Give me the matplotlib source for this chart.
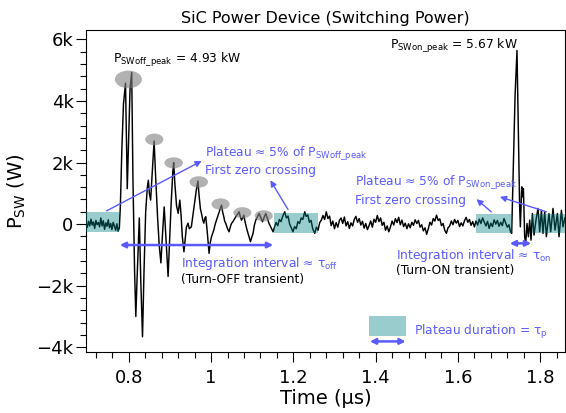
import matplotlib

matplotlib.use("Agg")
import matplotlib.pyplot as plt
from matplotlib.patches import Ellipse, Rectangle
from matplotlib.ticker import FuncFormatter, MultipleLocator


# switching power trace (time in us, power in W)
TIME = [
    0.696, 0.699, 0.702, 0.705, 0.708, 0.711, 0.714, 0.717, 0.720, 0.723,
    0.726, 0.729, 0.732, 0.735, 0.738, 0.741, 0.744, 0.747, 0.750, 0.753,
    0.756, 0.759, 0.762, 0.765, 0.768, 0.771, 0.774, 0.777,
    0.7795, 0.7830, 0.7870, 0.7920, 0.7945, 0.7962, 0.7990, 0.8030, 0.8070,
    0.8100, 0.8140, 0.8170, 0.8200, 0.8255, 0.8290, 0.8333, 0.8370, 0.8410,
    0.8450, 0.8475, 0.8500, 0.8530, 0.8570, 0.8615, 0.8650, 0.8700, 0.8740,
    0.8780, 0.8820, 0.8860, 0.8900, 0.8955, 0.8990, 0.9030, 0.9070, 0.9090,
    0.9120, 0.9160, 0.9200, 0.9240, 0.9270, 0.9300, 0.9340, 0.9370, 0.9400,
    0.9440, 0.9470, 0.9520, 0.9560, 0.9600, 0.9640, 0.9680, 0.9710, 0.9740,
    0.9767, 0.9800, 0.9823, 0.9850, 0.9871, 0.9910, 0.9951, 0.9980, 1.0010,
    1.0040, 1.0066, 1.0100, 1.0131, 1.0170, 1.0210, 1.0253, 1.0280, 1.0309,
    1.0330, 1.0357, 1.0400, 1.0437, 1.0470, 1.0496, 1.0540, 1.0576, 1.0620,
    1.0650, 1.0680, 1.0710, 1.0739, 1.0770, 1.0795, 1.0830, 1.0875, 1.0920,
    1.0957, 1.0990, 1.1021, 1.1050, 1.1086, 1.1130, 1.1167, 1.1210, 1.1249,
    1.1290, 1.1329, 1.1370, 1.1409, 1.1460, 1.1507,
    1.1540, 1.1580, 1.1620, 1.1660, 1.1700, 1.1740, 1.1790, 1.1830, 1.1870,
    1.1910, 1.1950, 1.1990, 1.2030, 1.2070, 1.2110, 1.2150, 1.2190, 1.2230,
    1.2277, 1.2310, 1.2350, 1.2390, 1.2430, 1.2470, 1.2520, 1.2560, 1.2600,
    1.2640, 1.2680, 1.2720, 1.2760, 1.2800, 1.2840, 1.2880, 1.2920, 1.2960,
    1.3000, 1.3040, 1.3080, 1.3120, 1.3160, 1.3200, 1.3240, 1.3280, 1.3320,
    1.3360, 1.3400, 1.3440, 1.3480, 1.3520, 1.3560, 1.3600, 1.3640, 1.3680,
    1.3720, 1.3760, 1.3800, 1.3840, 1.3880, 1.3920, 1.3960, 1.4000, 1.4040,
    1.4080, 1.4120, 1.4160, 1.4200, 1.4240, 1.4280, 1.4320, 1.4360, 1.4400,
    1.4440, 1.4480, 1.4520, 1.4560, 1.4600, 1.4640, 1.4680, 1.4720, 1.4760,
    1.4800, 1.4840, 1.4880, 1.4920, 1.4960, 1.5000, 1.5040, 1.5080, 1.5120,
    1.5160, 1.5200, 1.5240, 1.5280, 1.5320, 1.5360, 1.5400, 1.5440, 1.5480,
    1.5520, 1.5560, 1.5600, 1.5640, 1.5680, 1.5720, 1.5760, 1.5800, 1.5840,
    1.5880, 1.5920, 1.5960, 1.6000, 1.6040, 1.6080, 1.6120, 1.6160, 1.6200,
    1.6240, 1.6280, 1.6320, 1.6360, 1.6400, 1.6440, 1.6480, 1.6520, 1.6560,
    1.6600, 1.6640, 1.6680, 1.6720, 1.6760, 1.6800, 1.6840, 1.6880, 1.6920,
    1.6960, 1.7000, 1.7040, 1.7080, 1.7120, 1.7160, 1.7200, 1.7240, 1.7280,
    1.7307,
    1.7340, 1.7390, 1.7436, 1.7470, 1.7500, 1.7518, 1.7552, 1.7576, 1.7592,
    1.7623, 1.7648, 1.7680, 1.7713, 1.7745, 1.7777, 1.7810, 1.7850, 1.7900,
    1.7947, 1.7988, 1.8030, 1.8068, 1.8110, 1.8150, 1.8214, 1.8256, 1.8312,
    1.8361, 1.8418, 1.8458, 1.8516, 1.8555, 1.8600,
]
POWER = [
    30, -110, 90, -60, 160, -30, 70, -140, 120, -20,
    50, -90, 200, -60, 110, -170, 40, -70, 140, -120,
    20, -180, 60, -60, -200, 10, -230, -120,
    600, 2400, 3900, 4580, 2600, 1150, 2500, 4400, 4930,
    1500, -1500, -3000, -1800, 200, -1800, -3660, -1500, 400,
    1200, 1425, 1000, 780, 1700, 2700, 1600, 200, -700,
    -1260, -300, 560, -400, -1700, -600, 700, 1700, 2000,
    1300, 600, 350, 780, 300, -400, -900, -500, -100,
    30, -150, -90, 300, 700, 1100, 1400, 900, 500,
    345, 120, 30, 200, 240, -300, -950, -600, -410,
    -300, -195, 0, 130, 300, 450, 615, 400, 240,
    100, 20, -150, -250, -80, 20, 100, 185, 280,
    330, 400, 250, 130, 200, 290, 50, -195, -400,
    -570, -420, -300, -50, 130, 250, 345, 200, 75,
    220, 345, 180, 20, -120, -250,
    -100, 50, -50, 150, 80, 250, 400, 200, 260,
    0, -120, -250, -80, -150, 80, 20, 200, 150,
    400, 250, 300, 60, 120, -150, -300, -100, -200,
    50, 130, 280, 150, 400, 180, 260, -50, 100,
    -150, 50, -100, 120, 200, 20, 230, -60, 80,
    -140, 40, -60, 150, 250, 60, 180, -30, 90,
    -130, 20, -180, -50, 100, -100, 160, 60, 280,
    80, 200, -40, 60, -200, -60, -250, -90, 100,
    -30, 180, 50, 220, -20, 130, -80, 30, -150,
    10, -120, 60, -40, 140, 20, 120, -100, -20,
    -220, -120, -330, -150, 60, -30, 180, 100, 290,
    120, 170, -50, 20, -200, -300, -120, -60, 100,
    -20, 150, 30, 120, -80, 40, -60, 110, 220,
    60, 150, -40, 80, -90, 100, -30, 160, 20,
    200, 70, -60, 90, -140, 30, -80, 140, 0,
    120, -70, 60, -50, 180, 40, -100, -20, -250,
    -300,
    1500, 4200, 5640, 3000, 600, -90, 1210, 885, 1150,
    -410, -625, 20, -410, 130, -520, 345, -356, 150,
    510, -250, 450, -300, 400, -410, 345, -250, 510,
    -195, 345, -410, 450, -90, 200,
]

# plateau bands (teal)
PLATEAU_START = [0.696, 1.152, 1.643, 1.781]
PLATEAU_END = [0.775, 1.259, 1.731, 1.860]
PLATEAU_LOW = [-250, -280, -300, -300]
PLATEAU_HIGH = [380, 345, 320, 324]

# grey markers on the turn-off peaks
PEAK_T = [0.799, 0.862, 0.909, 0.970, 1.023, 1.076, 1.128]
PEAK_P = [4700, 2750, 1990, 1370, 650, 370, 270]
PEAK_W = [0.0656, 0.044, 0.045, 0.045, 0.044, 0.044, 0.044]
PEAK_H = [574, 380, 360, 370, 370, 360, 360]

BLUE = "#5a5aff"
TEAL = "#008080"
NOTE_SIZE = 8.8


def kilo(value, pos):
    if abs(value) < 1e-9:
        return "0"
    text = "{0:g}k".format(value / 1000.0)
    return text.replace("-", "\u2212")


def main():
    plt.rcParams["font.family"] = "DejaVu Sans"
    fig = plt.figure(figsize=(5.66, 4.13), dpi=100)
    ax = fig.add_axes([0.152, 0.148, 0.846, 0.779])

    ax.plot(TIME, POWER, color="black", linewidth=1.05, zorder=2)

    for t0, t1, lo, hi in zip(PLATEAU_START, PLATEAU_END, PLATEAU_LOW, PLATEAU_HIGH):
        ax.add_patch(Rectangle((t0, lo), t1 - t0, hi - lo, facecolor=TEAL,
                               alpha=0.4, edgecolor="none", zorder=3))

    for t, p, w, h in zip(PEAK_T, PEAK_P, PEAK_W, PEAK_H):
        ax.add_patch(Ellipse((t, p), w, h, facecolor="#808080", alpha=0.6,
                             edgecolor="none", zorder=3))

    # legend swatch for the plateau
    ax.add_patch(Rectangle((1.383, -3650), 0.090, 650, facecolor=TEAL,
                           alpha=0.4, edgecolor="none", zorder=3))

    # peak labels
    ax.text(0.762, 5335, r"P$_{\mathregular{SWoff\_peak}}$ = 4.93 kW",
            fontsize=NOTE_SIZE, va="center", ha="left")
    ax.text(1.434, 5770, r"P$_{\mathregular{SWon\_peak}}$ = 5.67 kW",
            fontsize=NOTE_SIZE, va="center", ha="left")

    # plateau notes
    ax.text(0.985, 2270, r"Plateau ≈ 5% of P$_{\mathregular{SWoff\_peak}}$",
            color=BLUE, fontsize=NOTE_SIZE, va="center")
    ax.text(0.985, 1750, "First zero crossing", color=BLUE, fontsize=NOTE_SIZE, va="center")
    ax.text(1.349, 1320, r"Plateau ≈ 5% of P$_{\mathregular{SWon\_peak}}$",
            color=BLUE, fontsize=NOTE_SIZE, va="center")
    ax.text(1.349, 780, "First zero crossing", color=BLUE, fontsize=NOTE_SIZE, va="center")

    # integration interval notes
    ax.text(0.928, -1275, r"Integration interval ≈ τ$_{\mathregular{off}}$",
            color=BLUE, fontsize=NOTE_SIZE, va="center")
    ax.text(0.928, -1815, "(Turn-OFF transient)", fontsize=NOTE_SIZE, va="center")
    ax.text(1.4505, -1005, r"Integration interval ≈ τ$_{\mathregular{on}}$",
            color=BLUE, fontsize=NOTE_SIZE, va="center")
    ax.text(1.4505, -1510, "(Turn-ON transient)", fontsize=NOTE_SIZE, va="center")
    ax.text(1.493, -3490, r"Plateau duration = τ$_{\mathregular{p}}$",
            color=BLUE, fontsize=NOTE_SIZE, va="center")

    single = dict(arrowstyle="-|>", color=BLUE, lw=1.0, mutation_scale=9,
                  shrinkA=0, shrinkB=0)
    double = dict(arrowstyle="<|-|>", color=BLUE, lw=1.8, mutation_scale=8,
                  shrinkA=0, shrinkB=0)
    for tail, head in [((0.746, 430), (0.977, 2050)),
                       ((1.187, 475), (1.144, 1425)),
                       ((1.815, 400), (1.702, 885)),
                       ((1.681, 400), (1.645, 810))]:
        ax.annotate("", xy=head, xytext=tail, arrowprops=single, zorder=4)
    for left, right in [((0.778, -680), (1.151, -680)),
                        ((1.726, -625), (1.778, -625)),
                        ((1.386, -3810), (1.473, -3810))]:
        ax.annotate("", xy=right, xytext=left, arrowprops=double, zorder=4)

    ax.set_xlim(0.696, 1.86)
    ax.set_ylim(-4150, 6300)
    ax.xaxis.set_major_locator(MultipleLocator(0.2))
    ax.xaxis.set_minor_locator(MultipleLocator(0.04))
    ax.yaxis.set_major_locator(MultipleLocator(2000))
    ax.yaxis.set_minor_locator(MultipleLocator(400))
    ax.xaxis.set_major_formatter(FuncFormatter(lambda v, pos: "{0:g}".format(round(v, 2))))
    ax.yaxis.set_major_formatter(FuncFormatter(kilo))
    ax.tick_params(which="major", direction="out", length=7, width=0.8,
                   labelsize=13, top=False, right=False)
    ax.tick_params(which="minor", direction="out", length=4, width=0.8,
                   top=False, right=False)
    ax.tick_params(axis="x", which="major", pad=5)
    ax.tick_params(axis="y", which="major", pad=2)

    ax.set_xlabel("Time (µs)", fontsize=14, labelpad=2)
    ax.set_ylabel(r"P$_{\mathregular{SW}}$ (W)", fontsize=14, labelpad=6)
    ax.set_title("SiC Power Device (Switching Power)", fontsize=11.5, pad=5)

    fig.savefig("out.png", dpi=100)
    plt.close(fig)


if __name__ == "__main__":
    main()
